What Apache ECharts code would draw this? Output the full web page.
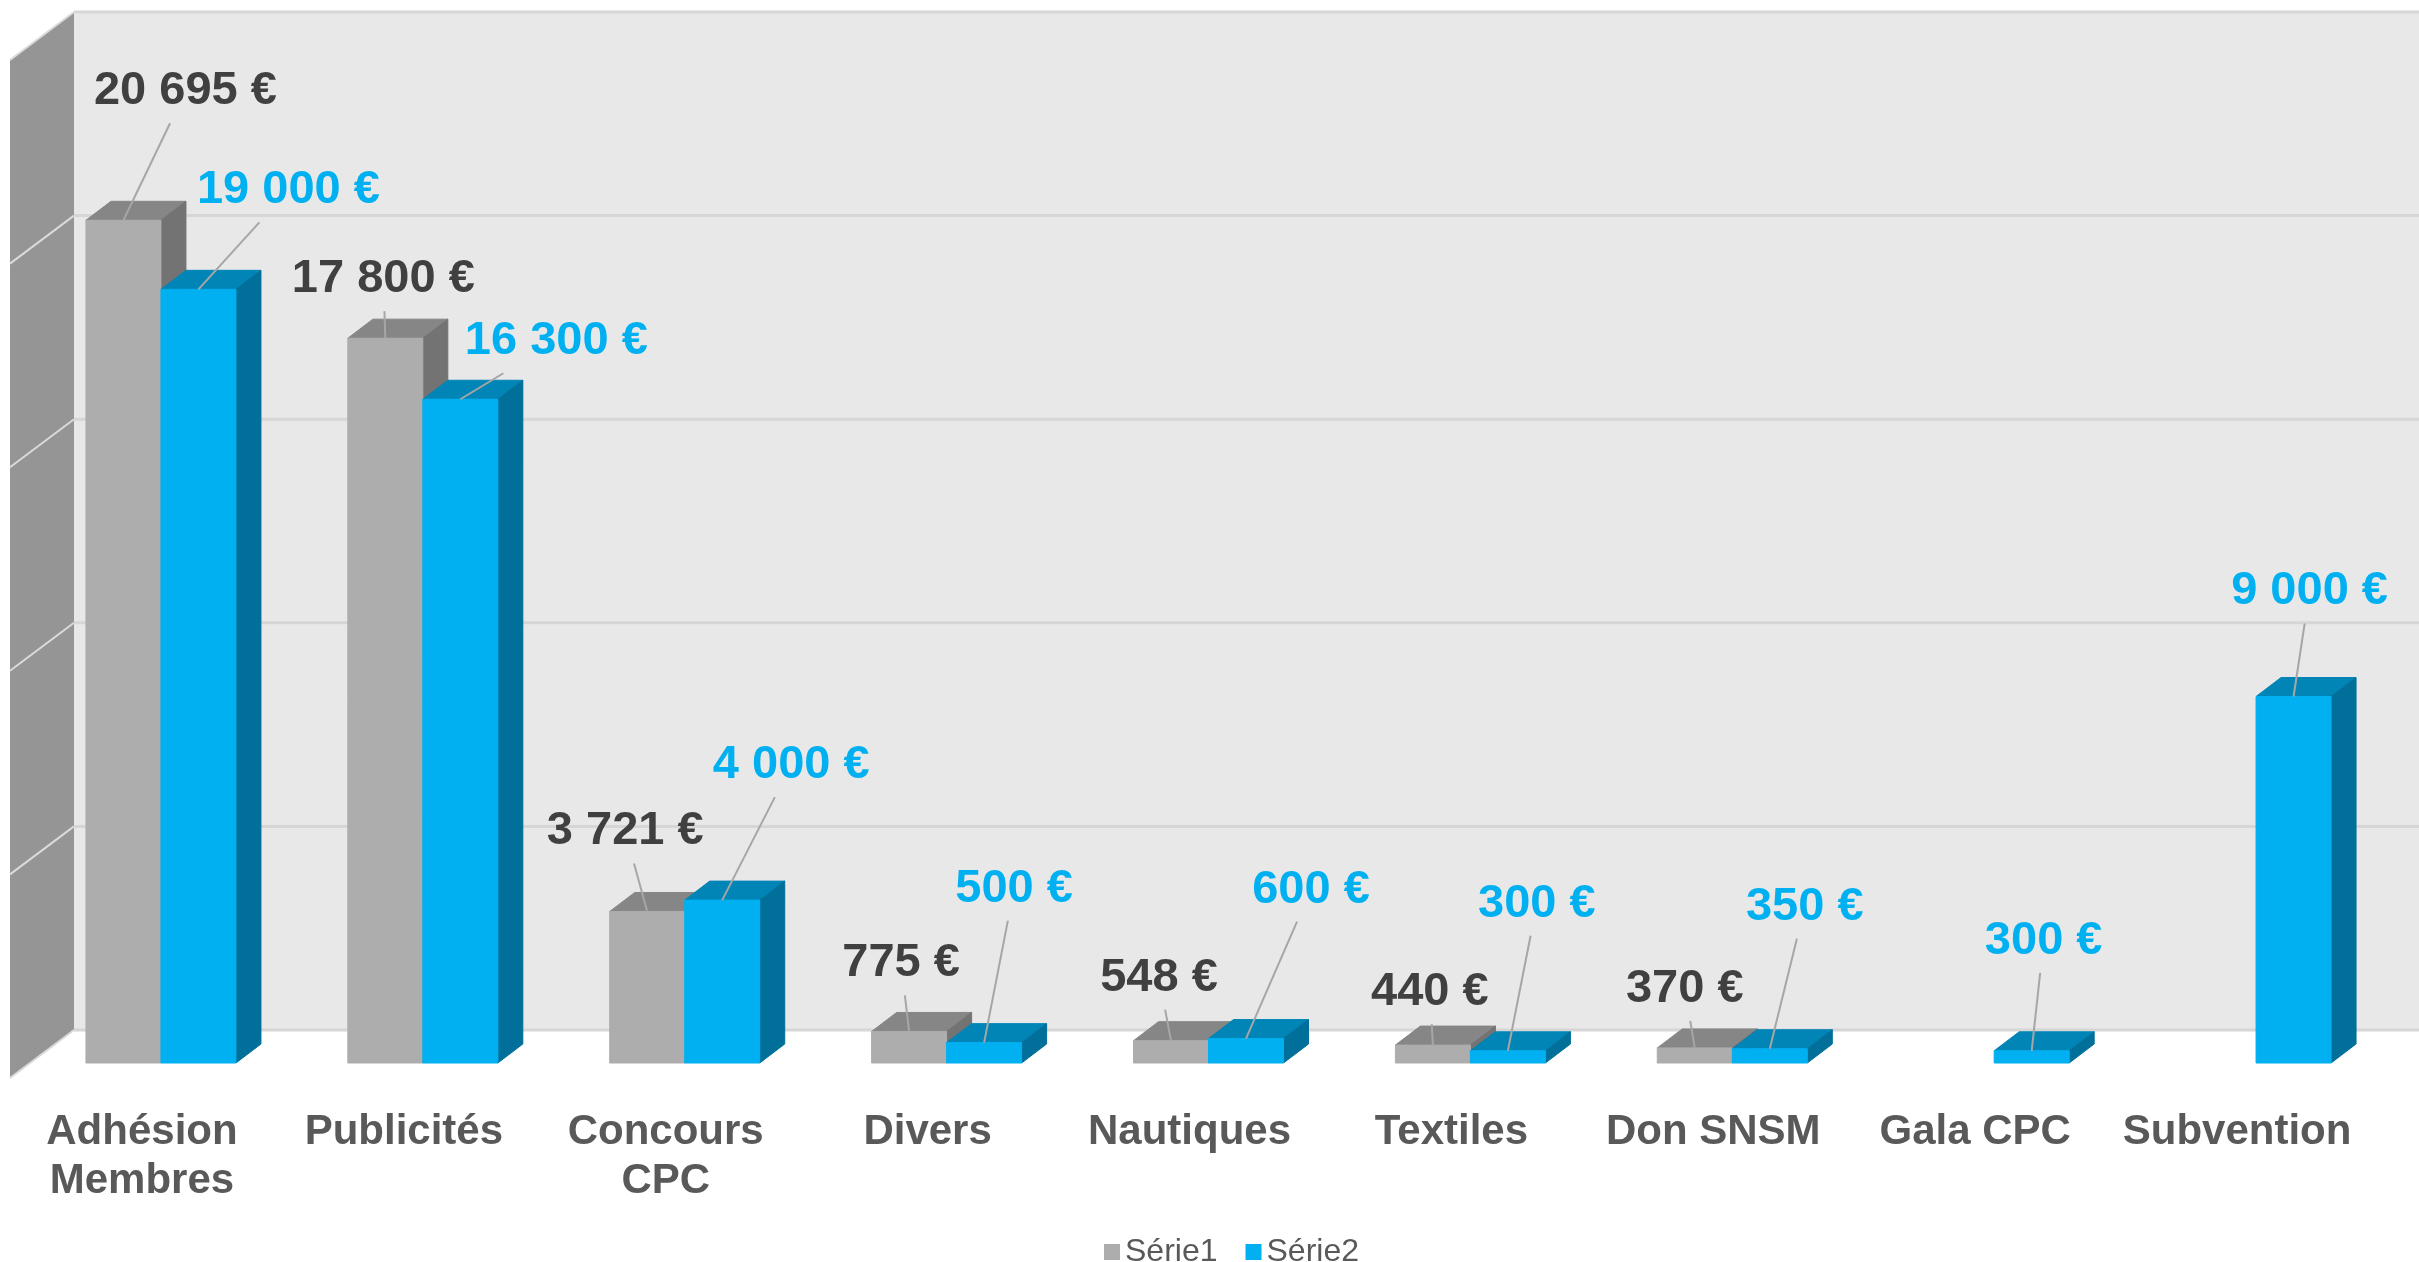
<!DOCTYPE html>
<html>
<head>
<meta charset="utf-8">
<title>Recettes</title>
<script src="https://cdn.jsdelivr.net/npm/echarts@6/dist/echarts.min.js"></script>
<style>
  html, body { margin: 0; padding: 0; background: #fff; }
  #chart { width: 2419px; height: 1262px; }
</style>
</head>
<body>
<div id="chart"></div>
<script>
const categories = ['Adhésion\nMembres', 'Publicités', 'Concours\nCPC', 'Divers', 'Nautiques', 'Textiles', 'Don SNSM', 'Gala CPC', 'Subvention']
const serie1 = [20695, 17800, 3721, 775, 548, 440, 370, null, null]
const serie2 = [19000, 16300, 4000, 500, 600, 300, 350, 300, 9000]
const valueTicks = [0, 5000, 10000, 15000, 20000, 25000]

// where each label sits, relative to the top of its bar (dragged by hand in the original)
const shift1 = [[62, -129], [-2, -59], [-22, -80], [-8, -68], [-12, -63], [-3, -53], [-10, -59], null, null]
const shift2 = [[90, -99], [96, -58], [69, -135], [30, -154], [65, -149], [29, -147], [35, -142], [12, -110], [16, -105]]

const BAR_RATIO = 0.2864
const DEPTH_X = 25
const DEPTH_Y = -19
const WALL_DY = -33
const LABEL_FONT = 'bold 47px "Liberation Sans", Arial, sans-serif'

const measureCtx = document.createElement('canvas').getContext('2d')
measureCtx.font = LABEL_FONT

function euro(v) {
  return String(v).replace(/\B(?=(\d{3})+(?!\d))/g, ' ') + ' €'
}

function renderWall(params, api) {
  const cs = params.coordSys
  const top = api.coord([0, valueTicks[valueTicks.length - 1]])[1] + WALL_DY
  const bottom = api.coord([0, 0])[1] + WALL_DY
  const y = api.coord([0, api.value(1)])[1] + WALL_DY
  const backL = cs.x + 44
  const backR = cs.x + cs.width + 32
  const sideL = cs.x - 20
  const children = []
  if (params.dataIndex === 0) {
    children.push({
      type: 'rect',
      z2: 0,
      shape: { x: backL, y: top, width: backR - backL, height: bottom - top },
      style: { fill: '#e8e8e8' }
    })
    children.push({
      type: 'polygon',
      z2: 0,
      shape: { points: [[sideL, top + 48], [backL, top], [backL, bottom], [sideL, bottom + 48]] },
      style: { fill: '#959595' }
    })
  }
  children.push({
    type: 'line',
    z2: 1,
    shape: { x1: backL, y1: y, x2: backR, y2: y },
    style: { stroke: '#d6d6d6', lineWidth: 3 }
  })
  children.push({
    type: 'line',
    z2: 1,
    shape: { x1: sideL, y1: y + 48, x2: backL, y2: y },
    style: { stroke: '#dadada', lineWidth: 2 }
  })
  return { type: 'group', children: children }
}

function barRenderer(side, colors, shifts, labelColor) {
  return function (params, api) {
    const v = api.value(1)
    if (v == null || isNaN(v)) {
      return
    }
    const top = api.coord([api.value(0), v])
    const base = api.coord([api.value(0), 0])
    const w = api.size([1, 0])[0] * BAR_RATIO
    const x0 = side < 0 ? top[0] - w : top[0]
    const x1 = x0 + w
    const y0 = top[1]
    const y1 = base[1]
    const dx = DEPTH_X
    const dy = DEPTH_Y
    const children = [
      {
        type: 'polygon',
        shape: { points: [[x0, y0], [x1, y0], [x1 + dx, y0 + dy], [x0 + dx, y0 + dy]] },
        style: { fill: colors.top, stroke: colors.top, lineWidth: 1 }
      },
      {
        type: 'polygon',
        shape: { points: [[x1, y0], [x1 + dx, y0 + dy], [x1 + dx, y1 + dy], [x1, y1]] },
        style: { fill: colors.side, stroke: colors.side, lineWidth: 1 }
      },
      {
        type: 'rect',
        shape: { x: x0, y: y0, width: w, height: y1 - y0 },
        style: { fill: colors.front, stroke: colors.front, lineWidth: 1 }
      }
    ]

    const s = shifts[params.dataIndex]
    if (s) {
      const text = euro(v)
      const ax = (x0 + x1) / 2
      const ay = y0
      const cx = ax + s[0]
      const cy = ay + s[1]
      const halfW = measureCtx.measureText(text).width / 2 + 8
      const halfH = 32
      const ddx = ax - cx
      const ddy = ay - cy
      const t = Math.min(Math.abs(halfW / (ddx || 1e-6)), Math.abs(halfH / (ddy || 1e-6)))
      children.push({
        type: 'line',
        shape: { x1: cx + ddx * t, y1: cy + ddy * t, x2: ax, y2: ay },
        style: { stroke: '#a6a6a6', lineWidth: 2 }
      })
      children.push({
        type: 'text',
        style: {
          text: text,
          x: cx,
          y: cy,
          align: 'center',
          verticalAlign: 'middle',
          font: LABEL_FONT,
          fill: labelColor
        }
      })
    }
    return { type: 'group', children: children }
  }
}

const chart = echarts.init(document.getElementById('chart'))
chart.setOption({
  animation: false,
  backgroundColor: '#ffffff',
  grid: { left: 30, right: 32, top: 45, bottom: 199 },
  legend: {
    data: ['Série1', 'Série2'],
    left: 1099,
    top: 1231,
    icon: 'rect',
    itemWidth: 16,
    itemHeight: 16,
    itemGap: 28,
    textStyle: { fontSize: 32, color: '#595959', fontFamily: '"Liberation Sans", Arial, sans-serif' }
  },
  xAxis: {
    type: 'category',
    data: categories,
    axisLine: { show: false },
    axisTick: { show: false },
    axisLabel: {
      interval: 0,
      margin: 45,
      fontSize: 42,
      fontWeight: 'bold',
      lineHeight: 49,
      color: '#595959',
      fontFamily: '"Liberation Sans", Arial, sans-serif',
      padding: [0, 38, 0, 0]
    }
  },
  yAxis: {
    type: 'value',
    min: 0,
    max: 25000,
    interval: 5000,
    show: false
  },
  series: [
    {
      name: 'walls',
      type: 'custom',
      z: 1,
      silent: true,
      renderItem: renderWall,
      encode: { x: 0, y: 1 },
      data: valueTicks.map(v => [0, v])
    },
    {
      name: 'Série1',
      type: 'custom',
      z: 2,
      itemStyle: { color: '#adadad' },
      renderItem: barRenderer(-1, { front: '#adadad', top: '#868686', side: '#737373' }, shift1, '#404040'),
      encode: { x: 0, y: 1 },
      data: serie1.map((v, i) => [i, v])
    },
    {
      name: 'Série2',
      type: 'custom',
      z: 3,
      itemStyle: { color: '#00b0f0' },
      renderItem: barRenderer(1, { front: '#00b0f0', top: '#0085b6', side: '#006f99' }, shift2, '#00b0f0'),
      encode: { x: 0, y: 1 },
      data: serie2.map((v, i) => [i, v])
    }
  ]
})
</script>
</body>
</html>
